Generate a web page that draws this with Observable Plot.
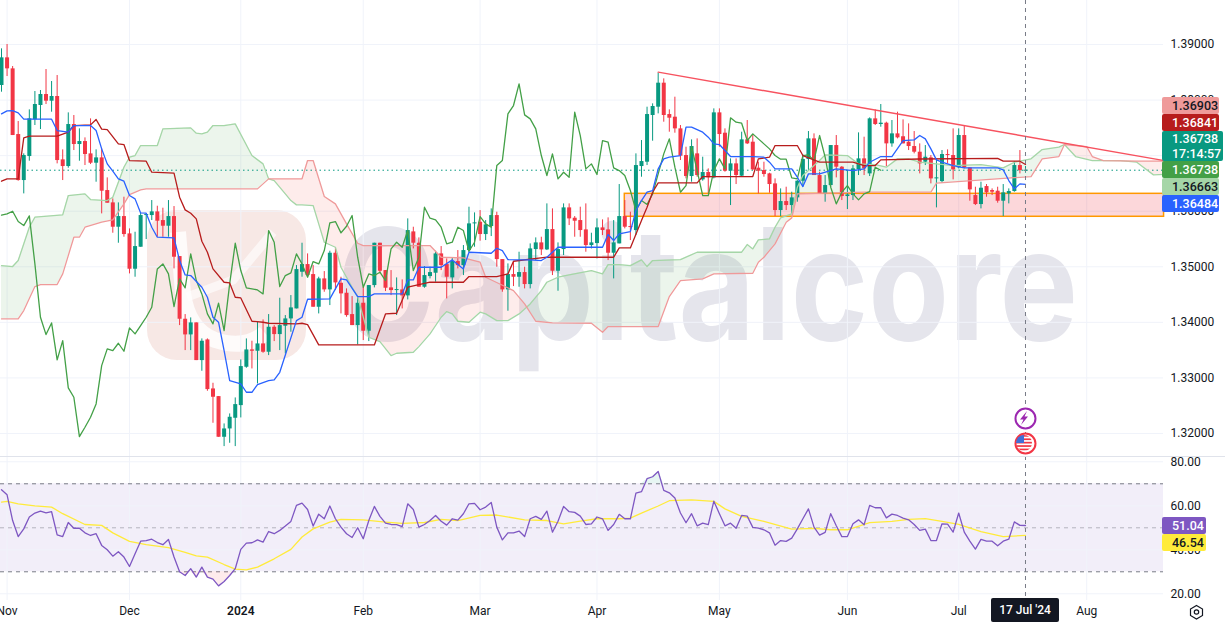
<!DOCTYPE html>
<html><head><meta charset="utf-8">
<style>
html,body{margin:0;padding:0;background:#fff;overflow:hidden}
#wrap{position:relative;width:1225px;height:625px;overflow:hidden;font-family:Roboto,sans-serif;color:#131722}
.layer{position:absolute;left:0}
.tags{position:absolute;left:1162px;display:flex;flex-direction:column;font-size:12.5px;font-weight:500}
.tags div{display:flex;flex-direction:column;justify-content:center;padding-left:10px;border-radius:2px;box-sizing:border-box;width:57px;height:17px;line-height:15px}
</style>
<script src="https://cdn.jsdelivr.net/npm/d3@7"></script>
<script src="https://cdn.jsdelivr.net/npm/@observablehq/plot@0.6"></script>
</head><body><div id="wrap"></div>
<script>
// ----- candles, one per trading day, 31 Oct 2023 to 17 Jul 2024
const opens=[1.38262,1.3876,1.38562,1.3738,1.36552,1.36984,1.37644,1.37902,1.381,1.3798,
1.38064,1.36924,1.36804,1.3756,1.372,1.37254,1.37032,1.36864,1.3696,1.36372,
1.3615,1.35712,1.35904,1.35592,1.34956,1.35352,1.35922,1.35922,1.35988,1.35832,
1.3573,1.35904,1.35184,1.34056,1.33774,1.3399,1.33312,1.33684,1.32802,1.32664,
1.31932,1.32082,1.32274,1.32502,1.33192,1.33504,1.3348,1.33612,1.33462,1.33912,
1.3378,1.3393,1.34062,1.34242,1.34902,1.3504,1.3486,1.34272,1.34782,1.34584,
1.35244,1.34704,1.34524,1.3414,1.33942,1.34344,1.3384,1.34662,1.35424,1.34932,
1.3462,1.34572,1.34584,1.34476,1.35628,1.35424,1.34632,1.34824,1.34884,1.35232,
1.3504,1.348,1.35094,1.35022,1.35292,1.35772,1.35802,1.3558,1.35724,1.35922,
1.3513,1.34584,1.3486,1.34812,1.34896,1.3468,1.3531,1.3543,1.35304,1.3567,
1.3492,1.3531,1.3606,1.35874,1.35832,1.35664,1.35382,1.35418,1.357,1.35664,
1.35244,1.35412,1.35904,1.35724,1.35652,1.36804,1.36882,1.37722,1.37872,1.38304,
1.3774,1.37692,1.37482,1.37002,1.36624,1.37032,1.36564,1.36696,1.366,1.3777,
1.37404,1.3672,1.36852,1.3663,1.37284,1.37242,1.36774,1.36732,1.36672,1.36492,
1.36012,1.36174,1.36102,1.3624,1.3654,1.3693,1.37302,1.36642,1.36312,1.36462,
1.37182,1.36792,1.36264,1.36282,1.3675,1.36942,1.36672,1.37662,1.3756,1.37584,
1.37212,1.37392,1.3734,1.37242,1.37164,1.37062,1.36882,1.3696,1.36582,1.36534,
1.3702,1.37002,1.3678,1.37362,1.3678,1.36282,1.3612,1.36444,1.36372,1.3636,
1.3618,1.36312,1.36354,1.36822,1.3672];
const closes=[1.3876,1.38562,1.37362,1.36552,1.37002,1.37662,1.3792,1.381,1.3798,1.38064,
1.36912,1.36804,1.3756,1.372,1.37254,1.3702,1.36864,1.3696,1.3636,1.36144,
1.35712,1.35904,1.3558,1.34956,1.35364,1.35922,1.35934,1.35988,1.3582,1.3573,
1.35904,1.35172,1.34056,1.33774,1.3399,1.33312,1.3366,1.3279,1.32652,1.31932,
1.32082,1.32292,1.3252,1.33204,1.33504,1.3348,1.33612,1.33462,1.33912,1.3378,
1.33942,1.34062,1.3426,1.3495,1.3504,1.34842,1.34272,1.34782,1.34584,1.35244,
1.3471,1.34512,1.34122,1.33942,1.34344,1.3384,1.34662,1.35424,1.3492,1.34614,
1.34572,1.34584,1.34476,1.35652,1.35424,1.34632,1.34842,1.34896,1.35232,1.35022,
1.34812,1.35094,1.35022,1.35292,1.35772,1.3579,1.3558,1.35754,1.35922,1.3513,
1.34584,1.3486,1.34812,1.34896,1.3468,1.35322,1.3543,1.35304,1.3567,1.3492,
1.3531,1.3606,1.35862,1.3582,1.35652,1.35382,1.3543,1.357,1.35652,1.35244,
1.3543,1.35904,1.35712,1.35712,1.36822,1.36894,1.3774,1.37884,1.38304,1.37722,
1.37674,1.37482,1.3699,1.36624,1.37164,1.36642,1.36696,1.366,1.3777,1.3738,
1.3672,1.36852,1.36642,1.37284,1.37212,1.36744,1.3672,1.3666,1.3648,1.36012,
1.36174,1.36102,1.3624,1.3654,1.3693,1.37302,1.36642,1.36312,1.36462,1.37182,
1.36792,1.36264,1.36294,1.36762,1.36942,1.36762,1.37662,1.3756,1.37584,1.37212,
1.37392,1.3732,1.37212,1.37164,1.37062,1.36852,1.36972,1.36582,1.366,1.3702,
1.37002,1.36744,1.37362,1.3678,1.36384,1.3612,1.36414,1.3633,1.36342,1.3618,
1.3633,1.36354,1.36822,1.36732,1.36738];
const highs=[1.38922,1.39,1.38604,1.37614,1.37032,1.37824,1.38154,1.38172,1.3855,1.38334,
1.38442,1.37104,1.3777,1.37722,1.37482,1.3732,1.37662,1.37104,1.37122,1.366,
1.36222,1.3615,1.36252,1.35682,1.35622,1.35964,1.35952,1.36192,1.3609,1.36054,
1.36192,1.36084,1.35184,1.3414,1.3408,1.3399,1.33702,1.33702,1.32904,1.32664,
1.32172,1.32352,1.3264,1.33324,1.33702,1.3366,1.34002,1.34044,1.3414,1.33942,
1.34434,1.34122,1.34482,1.35022,1.35424,1.35232,1.35022,1.34812,1.34914,1.3528,
1.3534,1.34812,1.34602,1.34464,1.34452,1.34632,1.34662,1.35424,1.35424,1.34932,
1.34932,1.348,1.34764,1.35862,1.35712,1.3552,1.35004,1.34992,1.3528,1.35364,
1.35142,1.3516,1.35292,1.35382,1.36072,1.3597,1.36012,1.35832,1.36042,1.35982,
1.3513,1.35052,1.35082,1.35262,1.34992,1.35412,1.3552,1.35532,1.36132,1.36042,
1.3543,1.36132,1.36132,1.35904,1.36072,1.36132,1.35604,1.35862,1.35844,1.3588,
1.35832,1.3648,1.36192,1.35982,1.37032,1.37272,1.37872,1.37932,1.38484,1.38382,
1.37824,1.38052,1.37542,1.37152,1.37284,1.37302,1.36972,1.36762,1.37842,1.37842,
1.37482,1.36942,1.36942,1.37422,1.37632,1.3738,1.36882,1.36882,1.36684,1.36582,
1.36402,1.36432,1.36342,1.36552,1.37014,1.37434,1.37392,1.36702,1.36642,1.37182,
1.37362,1.36804,1.36732,1.36822,1.3741,1.37332,1.3768,1.37824,1.3792,1.37602,
1.37632,1.37782,1.37644,1.37572,1.37434,1.37212,1.37182,1.37002,1.36942,1.37092,
1.37104,1.37482,1.37482,1.37542,1.3678,1.36432,1.36522,1.3648,1.36402,1.36432,
1.3648,1.36402,1.36894,1.37092,1.36804];
const lows=[1.38142,1.38424,1.37362,1.3654,1.36312,1.369,1.37542,1.3747,1.3792,1.37782,
1.36852,1.36552,1.36774,1.37092,1.369,1.36822,1.3684,1.36522,1.35952,1.36144,
1.35604,1.35424,1.35532,1.34872,1.34812,1.35352,1.3549,1.35832,1.35532,1.35532,
1.35532,1.34962,1.33942,1.33492,1.33492,1.33312,1.3312,1.3276,1.32184,1.31932,
1.31764,1.31824,1.31764,1.3228,1.33174,1.33162,1.32892,1.33444,1.33402,1.33654,
1.33492,1.33432,1.33822,1.34242,1.34812,1.34812,1.34272,1.34152,1.34542,1.34302,
1.34572,1.34152,1.34092,1.33942,1.33594,1.33672,1.33654,1.3462,1.34872,1.34554,
1.34482,1.34122,1.34242,1.34404,1.35322,1.34632,1.34614,1.34782,1.34722,1.34932,
1.34422,1.34602,1.34962,1.34842,1.35262,1.35352,1.3546,1.35472,1.35544,1.34992,
1.34542,1.342,1.34644,1.34632,1.34602,1.34602,1.35112,1.35202,1.35292,1.34842,
1.3456,1.35202,1.35742,1.35532,1.35532,1.35262,1.35322,1.35142,1.35562,1.35112,
1.34782,1.35412,1.35682,1.35472,1.35562,1.36612,1.36822,1.3726,1.37752,1.37602,
1.37422,1.37404,1.36912,1.36582,1.36522,1.36612,1.3654,1.36312,1.36582,1.37152,
1.36702,1.36102,1.3648,1.36612,1.372,1.36732,1.36312,1.36612,1.36324,1.35904,
1.35904,1.36012,1.35952,1.36162,1.36432,1.36732,1.36642,1.36312,1.36162,1.36432,
1.366,1.36192,1.3603,1.36192,1.36642,1.36642,1.36624,1.37542,1.37512,1.36804,
1.37152,1.37302,1.37212,1.37092,1.37032,1.36672,1.36822,1.36492,1.3606,1.36504,
1.36852,1.36564,1.36762,1.36762,1.3618,1.36102,1.36042,1.36252,1.36282,1.36144,
1.35904,1.36132,1.36342,1.36672,1.36684];

// ----- Ichimoku lines: [bar, price] at each change of direction
const tenkan=[[0,1.37752],[1,1.37806],[2,1.37812],[3,1.3777],[4,1.37656],[9,1.37656],[10,1.37452],[12,1.37422],[13,1.37542],[16,1.37542],[17,1.37452],[18,1.37122],[19,1.36852],[20,1.3672],[21,1.36582],[22,1.3654],[23,1.36282],[24,1.36222],[25,1.3597],[26,1.35964],[27,1.35712],[28,1.35532],[31,1.3552],[32,1.35112],[33,1.34854],[34,1.34842],[36,1.34632],[37,1.34452],[38,1.34092],[39,1.34002],[40,1.33492],[41,1.32952],[43,1.32892],[44,1.32742],[45,1.32742],[46,1.3288],[48,1.32952],[49,1.32964],[50,1.33102],[53,1.34032],
[54,1.34092],[55,1.34416],[59,1.34422],[61,1.34782],[62,1.34764],[64,1.34464],[66,1.34464],[67,1.34512],[72,1.34512],[73,1.34764],[74,1.34764],[75,1.34992],[79,1.34992],[81,1.35124],[83,1.34962],[84,1.35262],[88,1.35244],[89,1.35334],[90,1.35292],[91,1.3513],[95,1.35124],[97,1.35112],[98,1.35172],[100,1.35352],[108,1.35352],[109,1.3558],[110,1.35472],[111,1.35592],
[113,1.35634],[114,1.36012],[115,1.36192],[116,1.36342],[117,1.36372],[118,1.36762],[119,1.36942],[120,1.36972],[122,1.37002],[123,1.37512],[124,1.37512],[126,1.37422],[127,1.37332],[128,1.37212],[129,1.372],[130,1.37092],[131,1.36984],[135,1.36984],[137,1.36972],[138,1.36882],[139,1.36762],[142,1.36762],[143,1.36612],[144,1.36444],[145,1.36672],[147,1.36672],[150,1.36762],[153,1.36732],[155,1.36762],[156,1.36882],[158,1.36984],[160,1.36984],[162,1.37272],[164,1.37284],[165,1.37362],
[166,1.37302],[167,1.37122],[168,1.36924],[169,1.36882],[171,1.36822],[173,1.3678],[179,1.3678],[180,1.36744],[181,1.36552],[182,1.36402],[183,1.36492],[184,1.36484]];
const kijun=[[0,1.3654],[1,1.36582],[3,1.36582],[4,1.3732],[5,1.3735],[10,1.3735],[12,1.37422],[13,1.37542],[16,1.37554],[17,1.3765],[18,1.37476],[19,1.3747],[21,1.37212],[22,1.372],[23,1.36912],[26,1.369],[27,1.36702],[31,1.36684],[32,1.36252],[33,1.36024],[34,1.35964],[35,1.35862],[36,1.3546],[37,1.35262],[38,1.34962],[40,1.34722],[41,1.3471],[42,1.34452],[43,1.3444],[45,1.3402],[47,1.34002],[48,1.33984],[53,1.33972],
[54,1.33984],[55,1.3396],[57,1.33594],[67,1.33594],[69,1.34152],[71,1.34164],[73,1.34632],[77,1.34722],[83,1.34722],[84,1.34824],[89,1.34824],[91,1.34872],[92,1.351],[98,1.35172],[110,1.35172],[111,1.3534],
[113,1.3534],[115,1.35832],[116,1.36072],[117,1.36342],[118,1.3651],[125,1.3651],[126,1.36624],[135,1.36624],[136,1.36942],[138,1.36972],[139,1.37182],[143,1.37182],[144,1.37002],[147,1.36882],[153,1.36882],[155,1.36822],[157,1.36822],[158,1.36924],[165,1.3694],[179,1.3695],[180,1.369],[183,1.369],[184,1.36841]];
const chikou=[1.3593,1.35952,1.36,1.35814,1.35742,1.35916,1.35052,1.34092,1.3378,1.3399,
1.33324,1.33672,1.3282,1.32652,1.31944,1.32112,1.32292,1.32532,1.33222,1.33522,
1.33492,1.33624,1.3348,1.339,1.33792,1.33942,1.34092,1.34272,1.34962,1.35052,
1.34872,1.34284,1.34782,1.3462,1.35232,1.34752,1.34512,1.34152,1.33972,1.34344,
1.33852,1.34692,1.35424,1.34932,1.3462,1.34602,1.34584,1.34512,1.35652,1.35442,
1.34644,1.34842,1.3489,1.35232,
1.35052,1.34812,1.35094,1.35052,1.35292,1.3579,1.35814,1.3561,1.3573,1.35922,
1.35172,1.34632,1.34872,1.34842,1.34902,1.34752,1.35322,1.35442,1.35352,1.35652,
1.34932,1.35172,1.36072,1.35874,1.35844,1.35712,1.35412,1.35442,1.35712,1.35652,
1.3528,1.35442,1.35904,1.35772,1.35712,1.36822,1.36912,1.37752,1.37902,1.38292,
1.37734,1.37662,1.37482,1.37002,1.36642,1.37032,1.36582,1.36702,1.36612,1.37782,
1.37362,1.36762,1.36852,1.3666,1.37272,1.37242,1.3678,1.36732,
1.36642,1.36372,1.36012,1.36192,1.3612,1.36312,1.36672,1.37032,1.37302,1.36792,
1.36342,1.36462,1.37164,1.36732,1.36282,1.36282,1.36732,1.36942,1.36762,1.3768,
1.37602,1.37584,1.37272,1.37392,1.37302,1.37212,1.37122,1.37002,1.36936,1.36936,
1.366,1.36582,1.37002,1.37014,1.36912,1.37362,1.36972,1.36432,1.36132,1.36342,
1.36462,1.36312,1.36204,1.36312,1.36354,1.36792,1.36738];
const senkouA=[[0,1.35022],[2,1.35004],[3,1.35112],[5,1.35712],[6,1.35892],[11,1.35934],[12,1.36282],[15,1.36312],[16,1.3621],[19,1.36192],[20,1.36252],[22,1.36792],[23,1.36972],[24,1.37002],[25,1.37182],[28,1.37182],[29,1.37482],[34,1.375],[35,1.37404],[36,1.37392],[37,1.37422],[38,1.37542],[40,1.37542],[42,1.37572],[45,1.37002],[47,1.36852],[48,1.36582],[49,1.36552],[51,1.36312],[52,1.36192],[53,1.36114],
[54,1.36114],[56,1.36102],[57,1.35772],[58,1.35442],[60,1.35352],[61,1.34992],[63,1.34632],[64,1.34464],[66,1.33732],[68,1.33654],[70,1.33402],[71,1.33444],[74,1.33462],[75,1.33564],[77,1.33792],[79,1.34092],[80,1.34194],[81,1.34152],[82,1.3402],[84,1.34002],[86,1.34182],[87,1.34152],[89,1.34032],[91,1.34032],[93,1.34152],[95,1.34332],[97,1.34572],[98,1.34722],[100,1.34812],[102,1.34854],[106,1.34932],[108,1.34872],[109,1.3504],[111,1.3504],
[113,1.35022],[115,1.35124],[116,1.35004],[117,1.35112],[122,1.3513],[125,1.35262],[133,1.35262],[134,1.354],[135,1.35322],[136,1.35484],[138,1.35502],[139,1.35712],[140,1.3588],[142,1.35952],[143,1.36432],[144,1.36642],[147,1.36912],[148,1.37014],[152,1.37002],[154,1.36852],[157,1.3684],[159,1.36792],[161,1.36942],[163,1.36942],[165,1.36882],
[171,1.36822],[176,1.3684],[180,1.3678],[182,1.36882],[185,1.36942],[187,1.3711],[190,1.37152],[191,1.372],[193,1.36984],[196,1.36912],[201,1.36912],[204,1.36882],[205,1.36804],[207,1.36654],[209,1.36663]];
const senkouB=[[0,1.34062],[3,1.34062],[4,1.34212],[6,1.34644],[7,1.3468],[10,1.3468],[11,1.34872],[13,1.35532],[14,1.35532],[15,1.35712],[18,1.35802],[20,1.35844],[22,1.36132],[23,1.363],[25,1.36384],[26,1.36402],[46,1.36402],[48,1.36582],
[54,1.36582],[55,1.36912],[56,1.36912],[58,1.36264],[60,1.36132],[61,1.35952],[62,1.35772],[64,1.35424],[65,1.35382],[77,1.35382],[79,1.35172],[83,1.3516],[86,1.35082],[87,1.34812],[92,1.34572],[94,1.34332],[96,1.3402],[99,1.3399],[106,1.33984],[108,1.33822],[109,1.33924],
[118,1.33924],[120,1.34464],[122,1.34752],[126,1.34782],[128,1.34872],[135,1.34884],[136,1.35082],[137,1.35172],[139,1.35412],[141,1.35802],[142,1.3588],[143,1.36312],[155,1.36342],[165,1.36342],[167,1.36342],[168,1.36504],[185,1.36624],[187,1.36942],[190,1.36984],[191,1.372],[195,1.37164],[196,1.36984],[198,1.36912],[204,1.369],[209,1.36903]];

// ----- drawings on the chart
const trendLine=[[118,1.38502],[208.7,1.36915]];
const zoneBar=112, zoneHigh=1.36313, zoneLow=1.35900;
const lastPrice=1.36738, lastBar=184;
const priceTicks=[1.39,1.38,1.37,1.36,1.35,1.34,1.33,1.32];
const monthBars=[1,23,43,65,86,107,129,152,172,195];
const monthNames=["Nov","Dec","2024","Feb","Mar","Apr","May","Jun","Jul","Aug"];
const priceTags=[
 ["1.36903","#ef9a9a","#131722"],["1.36841","#b71c1c","#fff"],
 ["1.36738\n17:14:57","#089981","#fff"],["1.36738","#43a047","#fff"],
 ["1.36663","#a5d6a7","#131722"],["1.36484","#2962ff","#fff"]];

// ----- RSI, one value per candle, and its moving average
const rsi=[67.3,65.0,53.3,46.0,49.5,54.9,56.7,57.6,56.8,57.3,46.8,46.0,52.4,49.8,49.8,47.7,46.5,47.3,42.0,40.0,
37.1,39.1,36.7,32.4,38.2,43.9,44.2,44.8,43.3,42.3,44.7,36.7,30.0,28.3,31.4,27.6,32.1,27.6,26.7,23.6,
25.6,28.3,31.4,40.2,43.0,43.2,44.5,43.5,48.3,47.3,48.8,50.8,52.9,60.2,61.2,58.3,50.8,56.2,54.1,59.9,
54.1,50.3,47.3,45.6,50.0,45.0,53.3,59.7,55.2,52.1,51.5,51.4,50.5,60.9,58.3,50.3,51.5,53.3,55.6,53.0,
51.2,54.1,53.5,56.4,60.9,61.1,58.2,59.4,61.5,50.3,44.5,47.7,47.7,48.5,46.0,54.1,55.2,53.8,57.6,48.0,
53.0,59.7,57.3,57.0,55.3,51.5,51.8,54.9,54.1,48.8,51.5,
56.1,54.1,54.1,65.8,66.4,72.3,73.2,75.6,67.0,65.9,63.5,56.7,52.3,56.4,50.9,52.1,51.4,62.1,56.4,50.9,
52.1,49.8,55.6,55.3,50.2,49.8,49.1,47.7,42.1,44.2,43.8,45.3,49.5,54.1,58.6,50.3,46.7,47.9,56.4,50.9,
46.0,46.0,51.8,53.6,51.4,60.2,59.1,59.1,54.5,56.2,55.6,54.4,53.6,51.5,48.8,49.4,44.2,44.2,51.8,51.7,
48.0,56.7,48.0,43.9,40.3,44.7,43.9,43.9,41.8,43.9,44.8,52.7,51.1,51.04];
const rsiMA=[[0,61.7],[1,62.0],[3,60.9],[6,60.0],[9,59.4],[11,56.4],[15,51.5],[18,51.1],[20,47.7],[23,43.8],[26,42.3],[30,41.0],[33,38.8],[35,37.2],[37,36.7],[40,33.3],[42,31.2],[44,30.9],[46,32.1],[49,35.9],[52,40.2],[54,45.8],[56,49.5],[59,52.6],[61,53.8],[65,53.6],[69,52.6],[72,52.0],[76,52.4],[79,53.8],[82,53.3],[86,55.6],[89,55.8],[94,53.6],[98,53.3],[101,51.8],[104,53.0],[107,54.1],[111,54.1],[113,54.4],[115,56.7],[118,59.9],[120,62.3],[124,62.7],[128,62.0],[130,58.6],[133,55.2],[137,52.9],[142,49.4],[146,49.7],[149,49.1],[152,49.1],[156,52.3],[160,52.9],[163,53.8],[166,54.2],[169,52.9],[172,51.5],[176,48.3],[180,46.0],[184,46.54]];
const rsiTicks=[80,60,40,20];
const rsiTags=[["51.04","#7e57c2","#fff"],["46.54","#ffeb3b","#131722"]];

// ----- build
const wrap=document.getElementById("wrap");
const green="#089981", red="#f23645", grid="#f0f3fa", gray="#787b86";
const xDomain=[-0.18,208.8];
const candles=opens.map((o,i)=>{
  const up=closes[i]>=o, c=closes[i];
  const minBody=0.00018;
  return {i,o,h:highs[i],l:lows[i],c:Math.abs(c-o)<minBody?(up?o+minBody:o-minBody):c,up};
});
const chik=chikou.map((p,i)=>[i,p]);
const rsiPts=rsi.map((v,i)=>[i,v]);
const aScale=d3.scaleLinear().domain(senkouA.map(d=>d[0])).range(senkouA.map(d=>d[1]));
const bScale=d3.scaleLinear().domain(senkouB.map(d=>d[0])).range(senkouB.map(d=>d[1]));
const cloud=d3.range(0,209.01,0.25).map(i=>({i,a:aScale(i),b:bScale(i)}));
const styleBase={background:"transparent",fontFamily:"Roboto,sans-serif",fontSize:"12px",color:"#131722",overflow:"hidden"};

// watermark under the chart
const wm=d3.select(wrap).append("svg").attr("class","layer").style("top","0").attr("width",1225).attr("height",456);
wm.append("rect").attr("x",147).attr("y",210).attr("width",159).attr("height",150).attr("rx",30).attr("fill","#f7e8e5");
wm.append("path").attr("d","M178 232 L183 293 Q188 330 215 340 Q245 350 265 333").attr("fill","none").attr("stroke","#fff").attr("stroke-width",16).attr("stroke-opacity",0.8);
wm.append("path").attr("d","M187 297 L233 280 L273 232").attr("fill","none").attr("stroke","#fff").attr("stroke-width",9).attr("stroke-opacity",0.6);
const wmText=wm.append("text").attr("font-family","Inter,Roboto,sans-serif").attr("font-weight",700).attr("font-size",155).attr("fill","#e5e5ec").text("Capitalcore");
const wmLen=wmText.node().getComputedTextLength();
wmText.attr("transform",`translate(337,340) scale(${741/wmLen},1)`);

const main=Plot.plot({
  width:1225,height:456,marginLeft:0,marginRight:62,marginTop:0,marginBottom:0,
  style:styleBase,
  x:{type:"linear",domain:xDomain,axis:null},
  y:{type:"linear",domain:[1.31586,1.39792],axis:null},
  marks:[
    Plot.ruleY(priceTicks,{stroke:grid}),
    Plot.ruleX(monthBars,{stroke:grid}),
    Plot.axisY({anchor:"right",ticks:priceTicks,tickFormat:".5f",tickSize:0,tickPadding:7,label:null,fill:"#131722"}),
    Plot.areaY(cloud,{x:"i",y1:"b",y2:d=>Math.max(d.a,d.b),fill:"#43a047",fillOpacity:0.1}),
    Plot.areaY(cloud,{x:"i",y1:"a",y2:d=>Math.max(d.a,d.b),fill:"#f44336",fillOpacity:0.1}),
    Plot.rect([0],{x1:zoneBar,x2:xDomain[1]+0.1,y1:zoneLow,y2:zoneHigh,fill:"#f23645",fillOpacity:0.2,stroke:"#ff9800",strokeWidth:1.5,inset:0}),
    Plot.ruleY([lastPrice],{stroke:green,strokeDasharray:"1.5,3",strokeWidth:1}),
    Plot.ruleX(candles,{x:"i",y1:"l",y2:"h",stroke:d=>d.up?green:red,strokeWidth:1}),
    Plot.ruleX(candles,{x:"i",y1:"o",y2:"c",stroke:d=>d.up?green:red,strokeWidth:4}),
    Plot.line(senkouA,{x:d=>d[0],y:d=>d[1],stroke:"#a5d6a7",strokeWidth:1.3}),
    Plot.line(senkouB,{x:d=>d[0],y:d=>d[1],stroke:"#ef9a9a",strokeWidth:1.3}),
    Plot.line(chik,{x:d=>d[0],y:d=>d[1],stroke:"#43a047",strokeWidth:1.3}),
    Plot.line(kijun,{x:d=>d[0],y:d=>d[1],stroke:"#b71c1c",strokeWidth:1.3}),
    Plot.line(tenkan,{x:d=>d[0],y:d=>d[1],stroke:"#2962ff",strokeWidth:1.3}),
    Plot.line(trendLine,{x:d=>d[0],y:d=>d[1],stroke:"#f7525f",strokeWidth:1.4}),
    Plot.ruleX([lastBar],{stroke:gray,strokeDasharray:"4,4",strokeWidth:1}),
    Plot.dot([[lastBar,1.3227]],{x:d=>d[0],y:d=>d[1],r:10,fill:"#fff",stroke:"#9c27b0",strokeWidth:2}),
    Plot.dot([[lastBar,1.3182]],{x:d=>d[0],y:d=>d[1],r:10,fill:"#fff",stroke:"#f23645",strokeWidth:2})
  ]
});
main.classList.add("layer");main.style.top="0";
wrap.appendChild(main);

const lower=Plot.plot({
  width:1225,height:169,marginLeft:0,marginRight:62,marginTop:0,marginBottom:25,
  style:styleBase,
  x:{type:"linear",domain:xDomain,axis:null},
  y:{type:"linear",domain:[16.95,82.4],axis:null},
  marks:[
    Plot.rect([0],{x1:xDomain[0],x2:xDomain[1],y1:30,y2:70,fill:"#7e57c2",fillOpacity:0.1,inset:0}),
    Plot.ruleY(rsiTicks,{stroke:grid}),
    Plot.ruleX(monthBars,{stroke:grid}),
    Plot.ruleY([70,30],{stroke:gray,strokeDasharray:"4,4"}),
    Plot.ruleY([50],{stroke:gray,strokeOpacity:0.5,strokeDasharray:"4,4"}),
    Plot.areaY(rsiPts,{x:d=>d[0],y1:30,y2:d=>Math.min(d[1],30),fill:"#f23645",fillOpacity:0.1}),
    Plot.areaY(rsiPts,{x:d=>d[0],y1:70,y2:d=>Math.max(d[1],70),fill:"#089981",fillOpacity:0.1}),
    Plot.line(rsiMA,{x:d=>d[0],y:d=>d[1],stroke:"#ffeb3b",strokeWidth:1.3}),
    Plot.line(rsiPts,{x:d=>d[0],y:d=>d[1],stroke:"#7e57c2",strokeWidth:1.3}),
    Plot.ruleX([lastBar],{stroke:gray,strokeDasharray:"4,4",strokeWidth:1}),
    Plot.axisY({anchor:"right",ticks:rsiTicks,tickFormat:".2f",tickSize:0,tickPadding:7,label:null,fill:"#131722"}),
    Plot.axisX({anchor:"bottom",ticks:monthBars,tickFormat:d=>monthNames[monthBars.indexOf(d)],tickSize:0,tickPadding:6,label:null,fill:"#131722"})
  ]
});
lower.classList.add("layer");lower.style.top="456px";
d3.select(lower).selectAll("text").filter(function(){return this.textContent==="2024"}).attr("font-weight",600);
wrap.appendChild(lower);

// pane separator
const sep=document.createElement("div");
sep.style.cssText="position:absolute;left:0;top:456px;width:1225px;height:1px;background:#e0e3eb";
wrap.appendChild(sep);

// price tags stacked beside the scale
function tagStack(list,top,width){
  const box=document.createElement("div");box.className="tags";box.style.top=top+"px";
  list.forEach(([t,bg,fg])=>{
    const two=t.includes("\n");
    const d=document.createElement("div");
    d.style.background=bg;d.style.color=fg;d.style.width=(two?61:width)+"px";d.style.height=(two?30:17)+"px";
    t.split("\n").forEach(line=>{const s=document.createElement("span");s.textContent=line;d.appendChild(s);});
    box.appendChild(d);
  });
  wrap.appendChild(box);
}
tagStack(priceTags,97,57);
tagStack(rsiTags,517,44);

// current date tag
const dateTag=document.createElement("div");
dateTag.textContent="17 Jul '24";
dateTag.style.cssText="position:absolute;left:991px;top:598px;width:68px;height:24px;line-height:24px;background:#131722;color:#fff;text-align:center;font-size:12px;font-weight:500;border-radius:2px";
wrap.appendChild(dateTag);

// bolt and flag inside the event markers, and the settings hexagon
const ov=d3.select(wrap).append("svg").attr("class","layer").style("top","0").attr("width",1225).attr("height",625).style("pointer-events","none");
ov.append("path").attr("d","M1027 411 L1020 419.5 L1023.5 419.5 L1021 425 L1028 416.5 L1024.5 416.5 Z").attr("fill","#9c27b0");
ov.append("clipPath").attr("id","fc").append("circle").attr("cx",1024).attr("cy",443).attr("r",8);
const fg=ov.append("g").attr("clip-path","url(#fc)");
d3.range(5).forEach(k=>fg.append("rect").attr("x",1015).attr("y",435+k*3.4).attr("width",18).attr("height",1.7).attr("fill","#f23645"));
fg.append("rect").attr("x",1015).attr("y",435).attr("width",9).attr("height",8).attr("fill","#3f6fd8");
ov.append("path").attr("d","M1196.5 605.5 L1202.5 609 L1202.5 615.5 L1196.5 619 L1190.5 615.5 L1190.5 609 Z").attr("fill","none").attr("stroke","#131722").attr("stroke-width",1.2);
ov.append("circle").attr("cx",1196.5).attr("cy",612).attr("r",2.2).attr("fill","none").attr("stroke","#131722").attr("stroke-width",1.2);
</script></body></html>
